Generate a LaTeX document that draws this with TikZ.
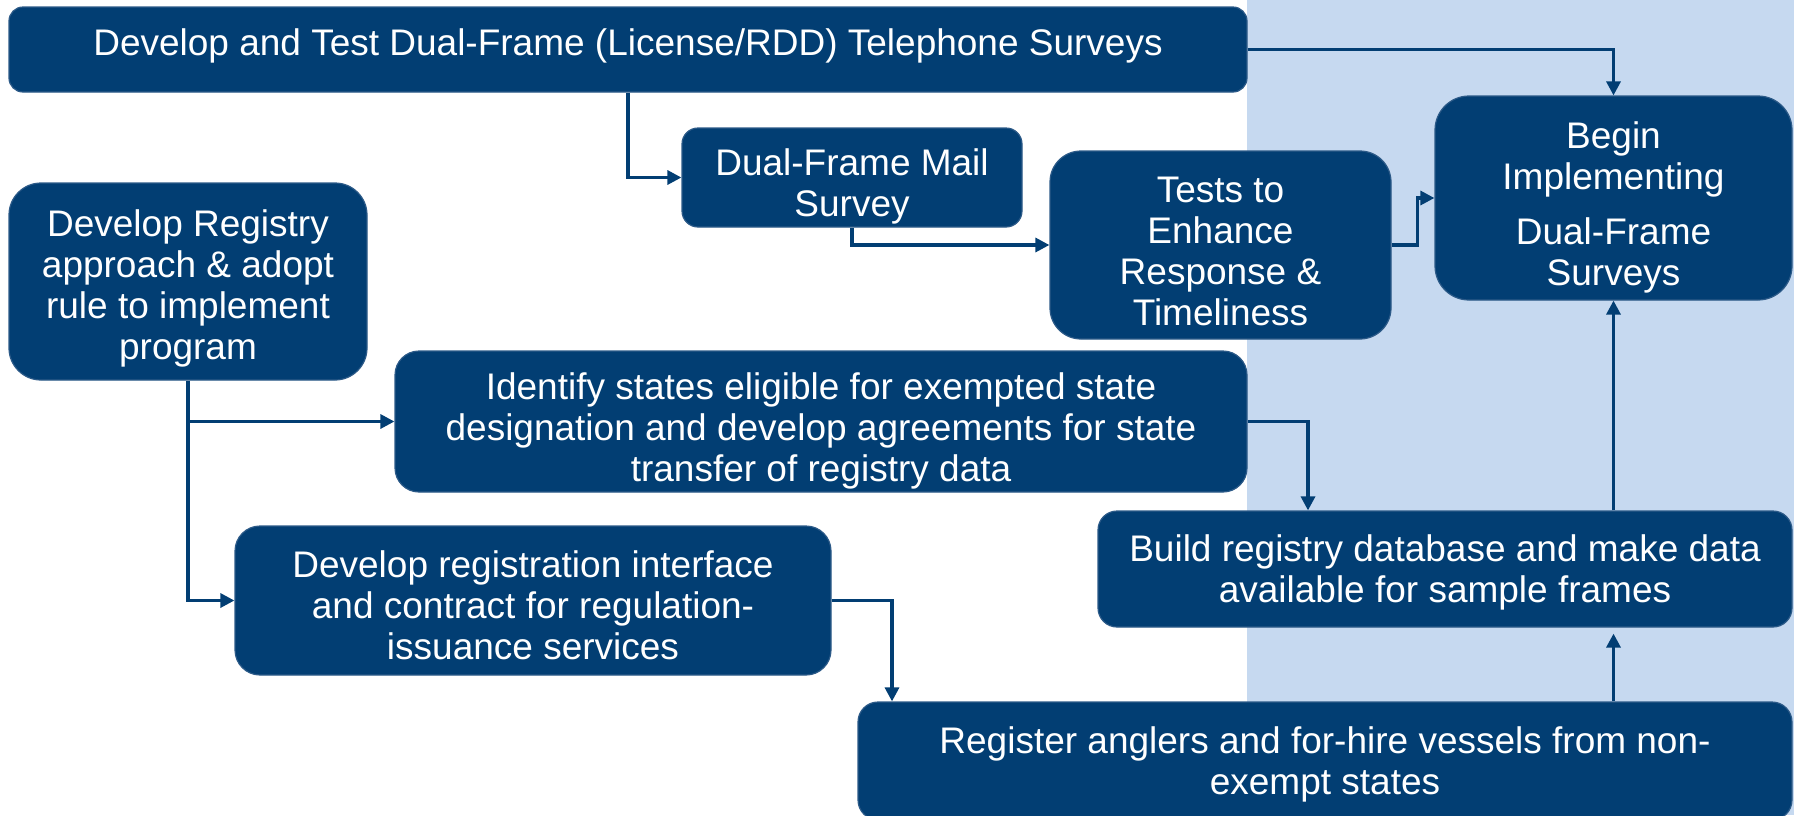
\documentclass[tikz,border=0pt]{standalone}
\usepackage{fontspec}
\setmainfont{Liberation Sans}
\usetikzlibrary{arrows.meta,calc}
\definecolor{navy}{HTML}{023E73}
\definecolor{bgblue}{HTML}{C6D9F0}
\definecolor{edge}{HTML}{2C5A88}
\begin{document}
\begin{tikzpicture}[x=0.5pt,y=-0.5pt,
  box/.style={draw=edge, line width=0.6pt, fill=navy, inner sep=0pt},
  txt/.style={text=white, align=center, font=\fontsize{18.5}{20.5}\selectfont, inner sep=0pt},
  conn/.style={draw=navy, line width=1.6pt, -{Triangle[length=7pt,width=7pt]}}]
\useasboundingbox (0,0) rectangle (1794,815);
\fill[bgblue] (1247,0) rectangle (1794,815);

\node[box, minimum width=619pt, minimum height=42.5pt, rounded corners=7pt] (top) at (628,49.5) {};
\node[txt] (toptext) at ([yshift=1.7pt]top.center)
  {Develop and Test Dual-Frame (License/RDD) Telephone Surveys};
\node[box, minimum width=170pt, minimum height=49.5pt, rounded corners=8pt] (mail) at (852,177.5) {};
\node[txt] (mailtext) at ([yshift=-4.6pt]mail.center) {Dual-Frame Mail\\Survey};
\node[box, minimum width=179pt, minimum height=98.5pt, rounded corners=16pt] (registry) at (188,281.5) {};
\node[txt] (registrytext) at ([yshift=-3.6pt]registry.center)
  {Develop Registry\\approach \& adopt\\rule to implement\\program};
\node[box, minimum width=170.5pt, minimum height=94pt, rounded corners=15.5pt] (tests) at (1220.5,245) {};
\node[txt] (teststext) at ([yshift=-3.4pt]tests.center)
  {Tests to\\Enhance\\Response \&\\Timeliness};
\node[box, minimum width=178.5pt, minimum height=102pt, rounded corners=17pt] (begin) at (1613.5,198) {};
\node[txt] (begintext) at ([yshift=-4.9pt]begin.center)
  {Begin\\Implementing\\[7pt]Dual-Frame\\Surveys};
\node[box, minimum width=426pt, minimum height=70.5pt, rounded corners=12pt] (identify) at (821,421.5) {};
\node[txt] (identifytext) at ([yshift=-4.9pt]identify.center)
  {Identify states eligible for exempted state\\designation and develop agreements for state\\transfer of registry data};
\node[box, minimum width=347pt, minimum height=58pt, rounded corners=9.5pt] (build) at (1445,569) {};
\node[txt] (buildtext) at ([yshift=-1.7pt]build.center)
  {Build registry database and make data\\available for sample frames};
\node[box, minimum width=298pt, minimum height=74.5pt, rounded corners=12.5pt] (regif) at (533,600.5) {};
\node[txt] (regiftext) at ([yshift=-2.3pt]regif.center)
  {Develop registration interface\\and contract for regulation-\\issuance services};
\node[box, minimum width=467pt, minimum height=59pt, rounded corners=10pt] (register) at (1325,761) {};
\node[txt] (registertext) at ([yshift=-1.7pt]register.center)
  {Register anglers and for-hire vessels from non-\\exempt states};

\draw[conn] (top.east) -| (begin.north);
\draw[conn] (top.south) |- (mail.west);
\draw[conn] (mail.south) |- (tests.west);
\draw[conn] (tests.east) -- ++(26,0) |- (begin.west);
\draw[conn] (registry.south) |- (regif.west);
\draw[conn] (registry.south |- identify.west) -- (identify.west);
\draw[conn] (identify.east) -| ([xshift=-68.5pt]build.north);
\draw[conn] (regif.east) -| ([xshift=-216.5pt]register.north);
\draw[conn, shorten >=3pt] (register.north -| begin.south) -- (build.south -| begin.south);
\draw[conn] (build.north -| begin.south) -- (begin.south);
\end{tikzpicture}
\end{document}
